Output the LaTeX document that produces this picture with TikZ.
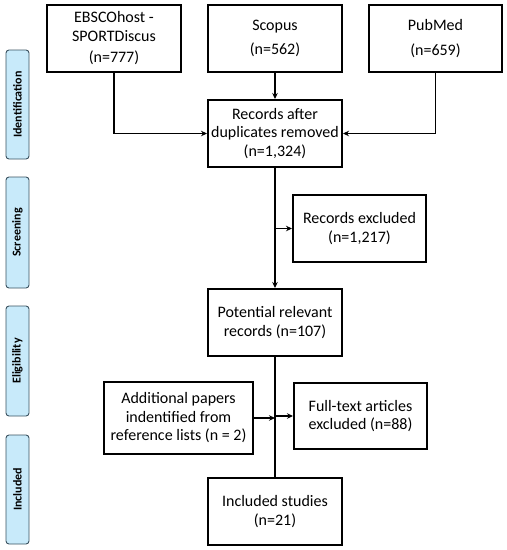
\documentclass[tikz,border=0pt]{standalone}
\usepackage{fontspec}
\setmainfont{Carlito}
\usetikzlibrary{arrows.meta}
\definecolor{phaseblue}{HTML}{C8EAFA}
\definecolor{phaseline}{HTML}{3A5260}

\tikzset{
  flowbox/.style={draw=black, line width=2pt, align=center, inner sep=2pt,
    minimum width=134pt, minimum height=67pt,
    font=\fontsize{16}{18.5}\selectfont},
  phase/.style={draw=phaseline, fill=phaseblue, line width=0.9pt, rounded corners=3pt,
    minimum width=109pt, minimum height=23pt, rotate=90,
    font=\fontsize{12}{13}\selectfont\bfseries},
  arr/.style={line width=1.8pt, -{Stealth[length=6pt,width=5.5pt]}},
  link/.style={line width=1.8pt}
}

\begin{document}
\begin{tikzpicture}[x=1pt,y=-1pt]
\useasboundingbox (0,0) rectangle (507,550);

% Phase labels
\node[phase] (ident) at (17.5,104.5) {Identification};
\node[phase, minimum width=111pt] (screen) at (17.5,232.5) {Screening};
\node[phase, minimum width=110pt] (elig) at (17.5,361) {Eligibility};
\node[phase] (incph) at (17.5,489.5) {Included};

% Databases
\node[flowbox] (ebsco) at (114,38.5) {EBSCOhost -\\SPORTDiscus\\[3pt](n=777)};
\node[flowbox] (scopus) at (275,38.5) {Scopus\\[6pt](n=562)};
\node[flowbox, minimum width=133pt] (pubmed) at (435.5,38.5) {PubMed\\[6pt](n=659)};

% Main flow
\node[flowbox] (dup) at (275,133.5) {Records after\\duplicates removed\\(n=1,324)};
\node[flowbox, minimum width=133pt] (excl) at (359.5,228.5) {Records excluded\\(n=1,217)};
\node[flowbox] (pot) at (275,322.5) {Potential relevant\\records (n=107)};
\node[flowbox, minimum width=149pt, minimum height=72pt] (addl) at (178.5,418) {Additional papers\\indentified from\\reference lists (n = 2)};
\node[flowbox, minimum width=133pt, minimum height=66pt] (full) at (360.5,416) {Full-text articles\\excluded (n=88)};
\node[flowbox] (incl) at (275,511.5) {Included studies\\(n=21)};

% Connectors
\draw[arr] (ebsco.south) |- (dup.west);
\draw[arr] (scopus) -- (dup);
\draw[arr] (pubmed.south) |- (dup.east);
\draw[arr] (dup) -- (pot);
\draw[arr] (dup.south |- excl.west) -- (excl.west);
\draw[link] (pot) -- (incl);
\draw[arr] (addl.east) -- (pot.south |- addl.east);
\draw[arr] (pot.south |- full.west) -- (full.west);
\end{tikzpicture}
\end{document}
